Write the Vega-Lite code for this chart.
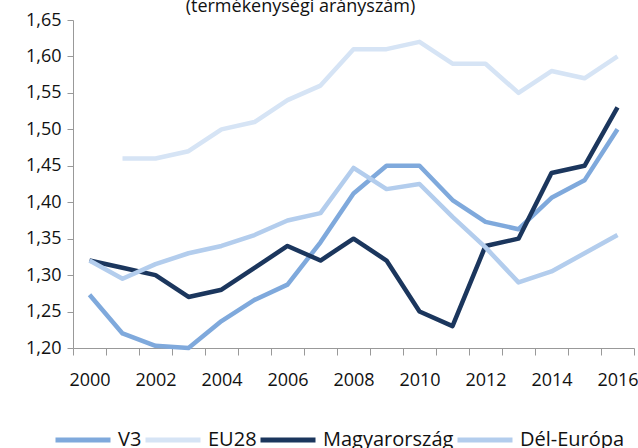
{
  "$schema": "https://vega.github.io/schema/vega-lite/v6.json",
  "width": 561,
  "height": 328,
  "autosize": {"type": "none"},
  "padding": {"left": 73, "top": 20, "right": 4, "bottom": 100},
  "background": "white",
  "config": {
    "view": {"stroke": null},
    "font": "Open Sans",
    "axis": {"labelFont": "Open Sans", "labelFontSize": 18, "labelColor": "#111", "domainColor": "#999", "tickColor": "#999", "grid": false},
    "legend": {"labelFont": "Open Sans", "labelFontSize": 20, "labelColor": "#111"}
  },
  "title": {
    "text": "(termékenységi arányszám)",
    "fontSize": 18,
    "fontWeight": "normal",
    "color": "#111",
    "anchor": "middle",
    "frame": "group",
    "dx": -53,
    "offset": -5
  },
  "data": {
    "values": [
      {"year": 2000, "series": "V3", "value": 1.273},
      {"year": 2001, "series": "V3", "value": 1.22},
      {"year": 2002, "series": "V3", "value": 1.203},
      {"year": 2003, "series": "V3", "value": 1.2},
      {"year": 2004, "series": "V3", "value": 1.237},
      {"year": 2005, "series": "V3", "value": 1.266},
      {"year": 2006, "series": "V3", "value": 1.287},
      {"year": 2007, "series": "V3", "value": 1.345},
      {"year": 2008, "series": "V3", "value": 1.412},
      {"year": 2009, "series": "V3", "value": 1.45},
      {"year": 2010, "series": "V3", "value": 1.45},
      {"year": 2011, "series": "V3", "value": 1.403},
      {"year": 2012, "series": "V3", "value": 1.373},
      {"year": 2013, "series": "V3", "value": 1.363},
      {"year": 2014, "series": "V3", "value": 1.406},
      {"year": 2015, "series": "V3", "value": 1.43},
      {"year": 2016, "series": "V3", "value": 1.5},
      {"year": 2001, "series": "EU28", "value": 1.46},
      {"year": 2002, "series": "EU28", "value": 1.46},
      {"year": 2003, "series": "EU28", "value": 1.47},
      {"year": 2004, "series": "EU28", "value": 1.5},
      {"year": 2005, "series": "EU28", "value": 1.51},
      {"year": 2006, "series": "EU28", "value": 1.54},
      {"year": 2007, "series": "EU28", "value": 1.56},
      {"year": 2008, "series": "EU28", "value": 1.61},
      {"year": 2009, "series": "EU28", "value": 1.61},
      {"year": 2010, "series": "EU28", "value": 1.62},
      {"year": 2011, "series": "EU28", "value": 1.59},
      {"year": 2012, "series": "EU28", "value": 1.59},
      {"year": 2013, "series": "EU28", "value": 1.55},
      {"year": 2014, "series": "EU28", "value": 1.58},
      {"year": 2015, "series": "EU28", "value": 1.57},
      {"year": 2016, "series": "EU28", "value": 1.6},
      {"year": 2000, "series": "Magyarország", "value": 1.32},
      {"year": 2001, "series": "Magyarország", "value": 1.31},
      {"year": 2002, "series": "Magyarország", "value": 1.3},
      {"year": 2003, "series": "Magyarország", "value": 1.27},
      {"year": 2004, "series": "Magyarország", "value": 1.28},
      {"year": 2005, "series": "Magyarország", "value": 1.31},
      {"year": 2006, "series": "Magyarország", "value": 1.34},
      {"year": 2007, "series": "Magyarország", "value": 1.32},
      {"year": 2008, "series": "Magyarország", "value": 1.35},
      {"year": 2009, "series": "Magyarország", "value": 1.32},
      {"year": 2010, "series": "Magyarország", "value": 1.25},
      {"year": 2011, "series": "Magyarország", "value": 1.23},
      {"year": 2012, "series": "Magyarország", "value": 1.34},
      {"year": 2013, "series": "Magyarország", "value": 1.35},
      {"year": 2014, "series": "Magyarország", "value": 1.44},
      {"year": 2015, "series": "Magyarország", "value": 1.45},
      {"year": 2016, "series": "Magyarország", "value": 1.53},
      {"year": 2000, "series": "Dél-Európa", "value": 1.32},
      {"year": 2001, "series": "Dél-Európa", "value": 1.295},
      {"year": 2002, "series": "Dél-Európa", "value": 1.315},
      {"year": 2003, "series": "Dél-Európa", "value": 1.33},
      {"year": 2004, "series": "Dél-Európa", "value": 1.34},
      {"year": 2005, "series": "Dél-Európa", "value": 1.355},
      {"year": 2006, "series": "Dél-Európa", "value": 1.375},
      {"year": 2007, "series": "Dél-Európa", "value": 1.385},
      {"year": 2008, "series": "Dél-Európa", "value": 1.447},
      {"year": 2009, "series": "Dél-Európa", "value": 1.418},
      {"year": 2010, "series": "Dél-Európa", "value": 1.425},
      {"year": 2011, "series": "Dél-Európa", "value": 1.38},
      {"year": 2012, "series": "Dél-Európa", "value": 1.338},
      {"year": 2013, "series": "Dél-Európa", "value": 1.29},
      {"year": 2014, "series": "Dél-Európa", "value": 1.305},
      {"year": 2015, "series": "Dél-Európa", "value": 1.33},
      {"year": 2016, "series": "Dél-Európa", "value": 1.355}
    ]
  },
  "mark": {"type": "line", "strokeWidth": 4.5, "strokeJoin": "round"},
  "encoding": {
    "x": {
      "field": "year",
      "type": "ordinal",
      "bandPosition": 0.5,
      "scale": {"type": "band", "paddingInner": 0, "paddingOuter": 0},
      "axis": {
        "title": null,
        "labelAngle": 0,
        "tickBand": "extent",
        "tickSize": 7,
        "labelPadding": 16,
        "labelExpr": "datum.value % 2 == 0 ? datum.label : ''"
      }
    },
    "y": {
      "field": "value",
      "type": "quantitative",
      "scale": {"domain": [1.2, 1.65], "zero": false, "nice": false},
      "axis": {
        "title": null,
        "values": [1.2, 1.25, 1.3, 1.35, 1.4, 1.45, 1.5, 1.55, 1.6, 1.65],
        "labelExpr": "replace(format(datum.value, '.2f'), '.', ',')",
        "tickSize": 6,
        "labelPadding": 6
      }
    },
    "color": {
      "field": "series",
      "type": "nominal",
      "sort": ["V3", "EU28", "Magyarország", "Dél-Európa"],
      "scale": {
        "domain": ["V3", "EU28", "Magyarország", "Dél-Európa"],
        "range": ["#7FA9DC", "#D6E4F5", "#1B365D", "#B3CDED"]
      },
      "legend": {
        "title": null,
        "orient": "none",
        "legendX": -20,
        "legendY": 390,
        "direction": "horizontal",
        "symbolType": "stroke",
        "symbolSize": 3025,
        "symbolStrokeWidth": 5,
        "labelOffset": 5,
        "columnPadding": -7
      }
    },
    "order": {"field": "year", "type": "ordinal"}
  }
}
